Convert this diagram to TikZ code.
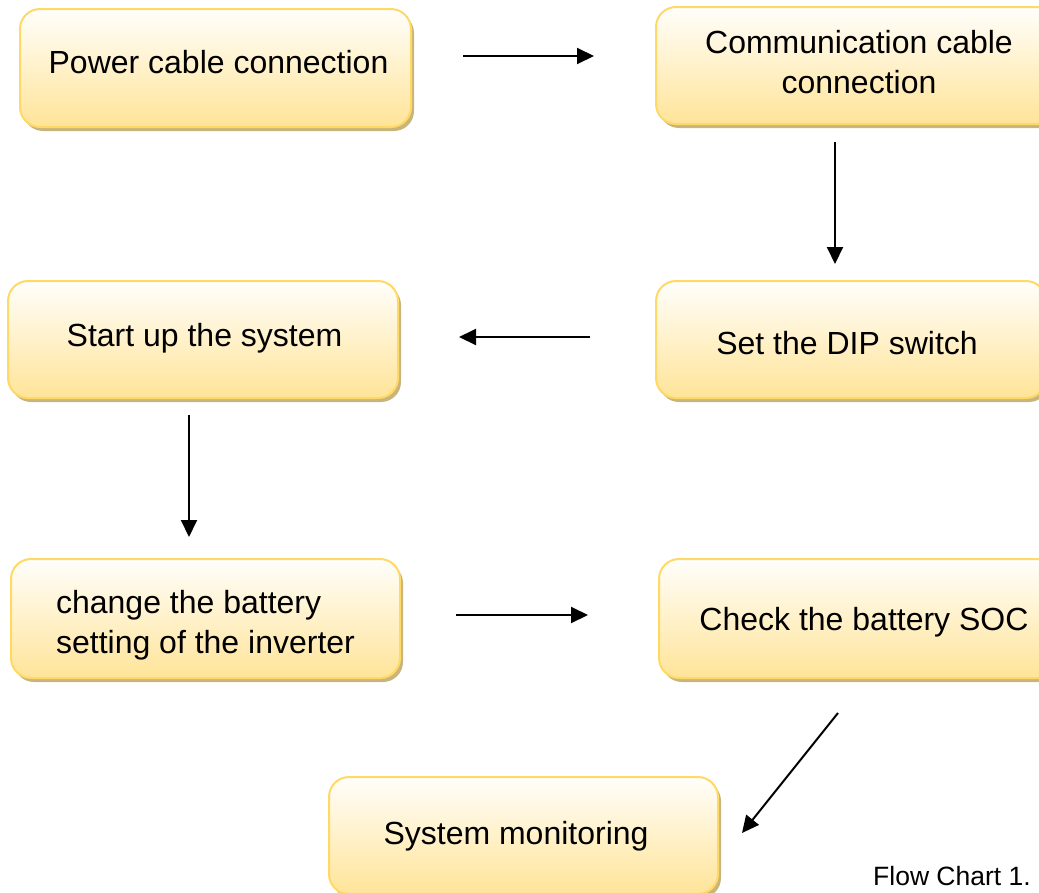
\documentclass[tikz,border=0pt]{standalone}
\usepackage{fontspec}
\setmainfont{Liberation Sans}
\usetikzlibrary{arrows.meta,shadows}
\definecolor{boxborder}{HTML}{FFD966}
\definecolor{boxbottom}{HTML}{FFE498}
\definecolor{boxtop}{HTML}{FFFEFB}
\definecolor{shadowc}{HTML}{C8B57C}
\newcommand{\boxtext}[3]{\hspace*{#1}\smash{\raisebox{#2}{#3}}}
\tikzset{
  stepbox/.style={rectangle, rounded corners=20pt, draw=boxborder, line width=2pt,
    top color=boxtop, bottom color=boxbottom,
    general shadow={shadow xshift=3pt, shadow yshift=-4pt, fill=shadowc},
    inner sep=0pt, font=\fontsize{32}{40.5}\selectfont, text=black},
  flow/.style={line width=2pt, -{Triangle[length=17pt,width=16pt]}}
}
\begin{document}
\begin{tikzpicture}[x=1pt,y=-1pt]
\useasboundingbox (0,0) rectangle (1039,892);
\node[stepbox, minimum width=391pt, minimum height=118pt] (power) at (215.5,68)
  {\boxtext{6pt}{-5.3pt}{Power cable connection}};
\node[stepbox, minimum width=402pt, minimum height=117pt] (comm) at (857,65.5)
  {\boxtext{4pt}{12.2pt}{\begin{tabular}[t]{@{}c@{}}Communication cable\\connection\end{tabular}}};
\node[stepbox, minimum width=390pt, minimum height=117pt] (start) at (203,339.5)
  {\boxtext{3pt}{-6.5pt}{Start up the system}};
\node[stepbox, minimum width=390pt, minimum height=117pt] (dip) at (851,339.5)
  {\boxtext{-8pt}{-14.5pt}{Set the DIP switch}};
\node[stepbox, minimum width=389pt, minimum height=119pt] (change) at (205.5,618.5)
  {\boxtext{0pt}{5.2pt}{\begin{tabular}[t]{@{}l@{}}change the battery\\setting of the inverter\end{tabular}}};
\node[stepbox, minimum width=404pt, minimum height=119pt] (soc) at (861,618.5)
  {\boxtext{6pt}{-11.5pt}{Check the battery SOC}};
\node[stepbox, minimum width=389pt, minimum height=117pt] (mon) at (523.5,835.5)
  {\boxtext{-15pt}{-8.5pt}{System monitoring}};
\node[font=\fontsize{26.5}{30}\selectfont, anchor=base west, inner sep=0pt] (cap) at (873,885) {Flow Chart 1.};
% arrow end points
\coordinate (a1s) at (463,56);  \coordinate (a1e) at (594,56);
\coordinate (a2s) at (835,142); \coordinate (a2e) at (835,264);
\coordinate (a3s) at (590,337); \coordinate (a3e) at (459,337);
\coordinate (a4s) at (189,415); \coordinate (a4e) at (189,537);
\coordinate (a5s) at (456,615); \coordinate (a5e) at (588,615);
\coordinate (a6s) at (838,713); \coordinate (a6e) at (742,833);
\draw[flow] (a1s) -- (a1e);
\draw[flow] (a2s) -- (a2e);
\draw[flow] (a3s) -- (a3e);
\draw[flow] (a4s) -- (a4e);
\draw[flow] (a5s) -- (a5e);
\draw[flow] (a6s) -- (a6e);
\end{tikzpicture}
\end{document}
